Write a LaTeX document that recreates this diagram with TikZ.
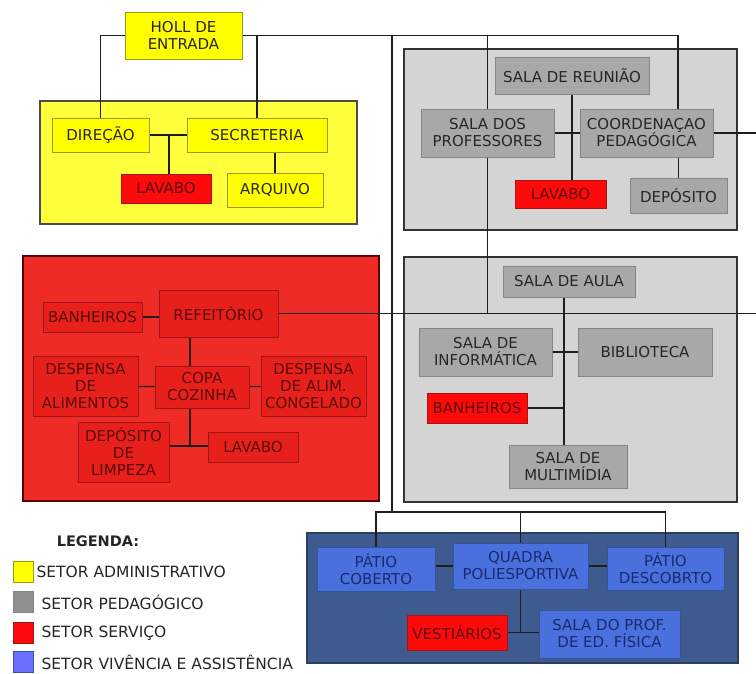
\documentclass[tikz,border=0pt]{standalone}
\usepackage{fontspec}
\setmainfont{DejaVu Sans}
\usepackage{xcolor}
\usetikzlibrary{positioning}
\pgfdeclarelayer{background}
\pgfsetlayers{background,main}

\definecolor{admRegion}{HTML}{FFFF3C}
\definecolor{admFill}{HTML}{FFFF00}
\definecolor{admLine}{HTML}{9A9A20}
\definecolor{pedRegion}{HTML}{D4D4D4}
\definecolor{pedFill}{HTML}{A8A8A8}
\definecolor{pedLine}{HTML}{858585}
\definecolor{srvRegion}{HTML}{EE2B25}
\definecolor{srvFill}{HTML}{E8201C}
\definecolor{srvLine}{HTML}{A01515}
\definecolor{srvText}{HTML}{5A0A0A}
\definecolor{lavFill}{HTML}{FF0A0A}
\definecolor{vivRegion}{HTML}{3E5A8E}
\definecolor{vivFill}{HTML}{4A70DE}
\definecolor{vivLine}{HTML}{34549C}
\definecolor{vivText}{HTML}{1A2A70}
\definecolor{vivSwatch}{HTML}{6E6EFF}
\definecolor{txtDark}{HTML}{262626}
\definecolor{lineCol}{HTML}{1E1E1E}

\begin{document}
\begin{tikzpicture}[
    x=1pt, y=-1pt,
    every node/.style={font=\fontsize{15}{17}\selectfont},
    box/.style={draw, line width=0.8pt, align=center, inner sep=1pt},
    dim/.style 2 args={minimum width=#1pt, minimum height=#2pt},
    adm/.style={box, fill=admFill, draw=admLine, text=txtDark},
    ped/.style={box, fill=pedFill, draw=pedLine, text=txtDark},
    srv/.style={box, fill=srvFill, draw=srvLine, text=srvText},
    lav/.style={box, fill=lavFill, draw=srvLine, text=srvText},
    viv/.style={box, fill=vivFill, draw=vivLine, text=vivText},
    region/.style={line width=1.2pt},
    link/.style={draw=lineCol, line width=1.3pt},
    swatch/.style={draw, line width=0.8pt, minimum width=20pt, minimum height=21pt, inner sep=0pt},
    legtext/.style={text=txtDark, inner sep=0pt, font=\fontsize{15.5}{17}\selectfont}
]
\useasboundingbox (0,0) rectangle (756,673);

% Setor administrativo
\node[adm, dim={117}{47}] (holl) at (183.5,35.5) {HOLL DE\\ENTRADA};
\node[adm, dim={97}{34}] (direcao) at (100.5,135) {DIREÇÃO};
\node[adm, dim={140}{34}] (secretaria) at (257,135) {SECRETERIA};
\node[lav, dim={90}{29}] (lavaboAdm) at (166,188.5) {LAVABO};
\node[adm, dim={96}{34}] (arquivo) at (275,190) {ARQUIVO};

% Setor pedagogico
\node[ped, dim={154}{37}] (reuniao) at (572,75.5) {SALA DE REUNIÃO};
\node[ped, dim={133}{48}] (professores) at (487.5,133) {SALA DOS\\PROFESSORES};
\node[ped, dim={133}{48}] (coordenacao) at (646.5,133) {COORDENAÇAO\\PEDAGÓGICA};
\node[lav, dim={91}{28}] (lavaboPed) at (560.5,194) {LAVABO};
\node[ped, dim={97}{35}] (deposito) at (678.5,195.5) {DEPÓSITO};

\node[ped, dim={132}{31}] (aula) at (569,281.5) {SALA DE AULA};
\node[ped, dim={133}{48}] (informatica) at (485.5,352) {SALA DE\\INFORMÁTICA};
\node[ped, dim={134}{48}] (biblioteca) at (645,352) {BIBLIOTECA};
\node[lav, dim={100}{30}] (banheirosPed) at (477,408) {BANHEIROS};
\node[ped, dim={118}{43}] (multimidia) at (568,466.5) {SALA DE\\MULTIMÍDIA};

% Setor servico
\node[srv, dim={99}{30}] (banheirosSrv) at (92.5,317) {BANHEIROS};
\node[srv, dim={119}{47}] (refeitorio) at (218.5,313.5) {REFEITÓRIO};
\node[srv, dim={105}{60}] (despensa) at (85.5,386) {DESPENSA\\DE\\ALIMENTOS};
\node[srv, dim={94}{42}] (copa) at (202,387) {COPA\\COZINHA};
\node[srv, dim={105}{60}] (congelado) at (313.5,386) {DESPENSA\\DE ALIM.\\CONGELADO};
\node[srv, dim={91}{60}] (limpeza) at (123.5,452) {DEPÓSITO\\DE\\LIMPEZA};
\node[srv, dim={90}{30}] (lavaboSrv) at (253,447) {LAVABO};

% Setor vivencia e assistencia
\node[viv, dim={118}{44}] (coberto) at (376,569) {PÁTIO\\COBERTO};
\node[viv, dim={135}{46}] (quadra) at (520.5,566) {QUADRA\\POLIESPORTIVA};
\node[viv, dim={117}{43}] (descoberto) at (665.5,568.5) {PÁTIO\\DESCOBRTO};
\node[lav, dim={100}{35}] (vestiarios) at (457,632.5) {VESTIÁRIOS};
\node[viv, dim={141}{48}] (salaEF) at (609.5,634) {SALA DO PROF.\\DE ED. FÍSICA};

% Legenda
\node[font=\bfseries\fontsize{14.5}{17}\selectfont, text=txtDark] (legenda) at (98,541) {LEGENDA:};
\node[swatch, fill=admFill, draw=admLine] (legAdm) at (23,571.5) {};
\node[swatch, fill=pedFill!85!black, draw=pedLine] (legPed) at (23,602) {};
\node[swatch, fill=lavFill, draw=srvLine] (legSrv) at (23,633) {};
\node[swatch, fill=vivSwatch, draw=vivLine] (legViv) at (23,662) {};
\node[legtext, right=3pt of legAdm] (txtAdm) {SETOR ADMINISTRATIVO};
\node[legtext, right=8pt of legPed] (txtPed) {SETOR PEDAGÓGICO};
\node[legtext, right=8pt of legSrv] (txtSrv) {SETOR SERVIÇO};
\node[legtext, right=8pt of legViv] (txtViv) {SETOR VIVÊNCIA E ASSISTÊNCIA};

% Free ends of the connectors
\coordinate (topR) at (678,35.5);
\coordinate (bus) at (392,512);
\coordinate (edgeA) at (756,133);
\coordinate (edgeB) at (756,313.5);
\coordinate (jLav) at (169,135);
\coordinate (jCopa) at (190,446);
\coordinate (jAula) at (564,408);

\begin{pgfonlayer}{background}
\fill[white] (0,0) rectangle (756,673);
% Regions
\draw[region, fill=admRegion, draw=black!70] (40,101) rectangle (357,224);
\draw[region, fill=pedRegion, draw=black!80] (404,49) rectangle (737,230);
\draw[region, fill=pedRegion, draw=black!80] (404,257) rectangle (737,502);
\draw[region, fill=srvRegion, draw=black!65!red] (23,256) rectangle (379,501);
\draw[region, fill=vivRegion, draw=vivRegion!70!black] (307,533) rectangle (738,663);

% Connectors
\draw[link] (holl.west) -| (direcao.north);
\draw[link] (holl.east) -- (topR) -- (topR |- coordenacao.north);
\draw[link] (secretaria.north |- holl.east) -- (secretaria.north);
\draw[link] (professores.north |- holl.east) -- (professores.north);
\draw[link] (bus |- holl.east) -- (bus);
\draw[link] (direcao) -- (secretaria);
\draw[link] (jLav) -- (jLav |- lavaboAdm.north);
\draw[link] (secretaria.south -| arquivo.north) -- (arquivo.north);

\draw[link] (reuniao.south) -- (reuniao.south |- lavaboPed.north);
\draw[link] (professores) -- (coordenacao);
\draw[link] (coordenacao.east) -- (edgeA);
\draw[link] (deposito.north |- coordenacao.south) -- (deposito.north);
\draw[link] (professores.south) -- (professores.south |- edgeB);

\draw[link] (banheirosSrv.east) -- (banheirosSrv.east -| refeitorio.west);
\draw[link] (refeitorio.east |- edgeB) -- (edgeB);
\draw[link] (refeitorio.south -| jCopa) -- (jCopa);
\draw[link] (despensa) -- (copa);
\draw[link] (copa) -- (congelado);
\draw[link] (limpeza.east |- jCopa) -- (lavaboSrv.west |- jCopa);

\draw[link] (aula.south -| jAula) -- (jAula |- multimidia.north);
\draw[link] (informatica) -- (biblioteca);
\draw[link] (banheirosPed.east) -- (jAula);

\draw[link] (coberto.north) |- (bus) -| (descoberto.north);
\draw[link] (quadra.north) -- (quadra.north |- bus);
\draw[link] (coberto.east |- quadra.west) -- (quadra.west);
\draw[link] (quadra.east) -- (descoberto.west |- quadra.east);
\draw[link] (quadra.south) -- (quadra.south |- vestiarios.east);
\draw[link] (vestiarios.east) -- (salaEF.west |- vestiarios.east);
\end{pgfonlayer}
\end{tikzpicture}
\end{document}
